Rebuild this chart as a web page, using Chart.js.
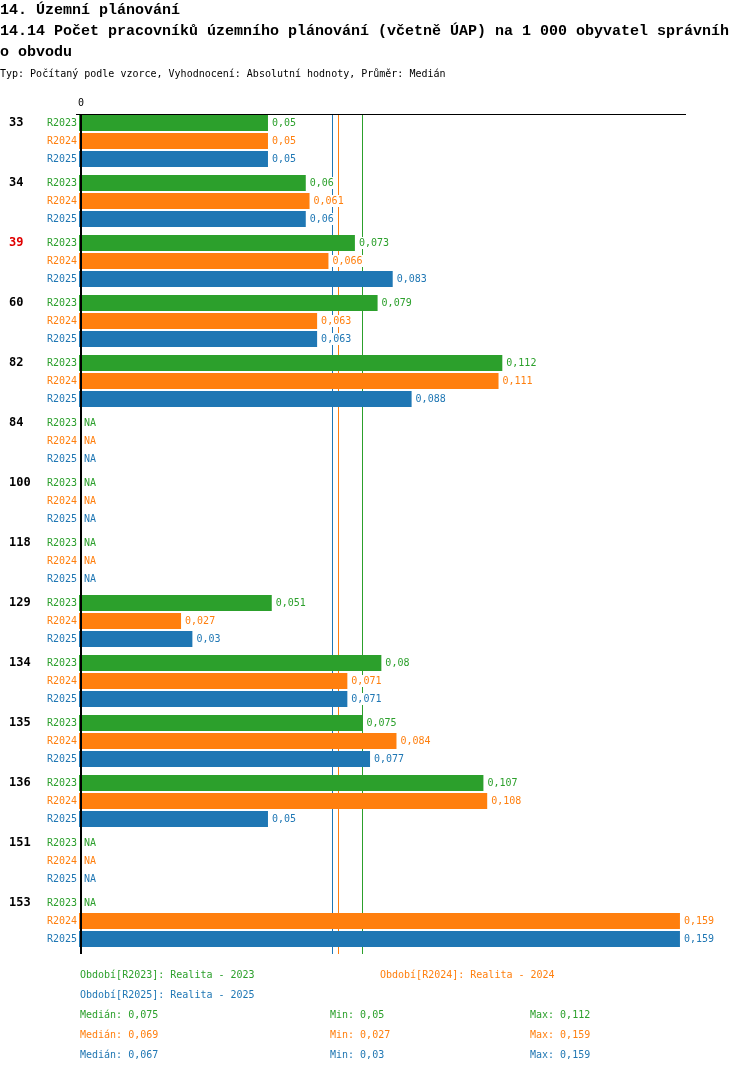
<!DOCTYPE html>
<html>
<head>
<meta charset="utf-8">
<script src="https://cdn.jsdelivr.net/npm/chart.js@4.4.0/dist/chart.umd.min.js"></script>
<style>
  html, body { margin: 0; padding: 0; background: #fff; }
  #wrap { position: relative; width: 750px; height: 1074px; }
</style>
</head>
<body>
<div id="wrap"><canvas id="chart" width="750" height="1074"></canvas></div>
<script>
const categories = ['33', '34', '39', '60', '82', '84', '100', '118', '129', '134', '135', '136', '151', '153'];
const highlighted = ['39'];
const r2023 = [0.05, 0.06, 0.073, 0.079, 0.112, null, null, null, 0.051, 0.08, 0.075, 0.107, null, null];
const r2024 = [0.05, 0.061, 0.066, 0.063, 0.111, null, null, null, 0.027, 0.071, 0.084, 0.108, null, 0.159];
const r2025 = [0.05, 0.06, 0.083, 0.063, 0.088, null, null, null, 0.03, 0.071, 0.077, 0.05, null, 0.159];
const seriesNames = ['R2023', 'R2024', 'R2025'];
const seriesTitles = ['Realita - 2023', 'Realita - 2024', 'Realita - 2025'];
const colors = ['#2ca02c', '#ff7f0e', '#1f77b4'];
const xTicks = [0];

const titleLines = [
    '14. Územní plánování',
    '14.14 Počet pracovníků územního plánování (včetně ÚAP) na 1 000 obyvatel správníh',
    'o obvodu'
];
const subtitle = 'Typ: Počítaný podle vzorce, Vyhodnocení: Absolutní hodnoty, Průměr: Medián';

const small = '10px "DejaVu Sans Mono"';

function fmt(v) {
    return String(Math.round(v * 1000) / 1000).replace('.', ',');
}

function stats(arr) {
    const vals = arr.filter(v => v !== null).sort((a, b) => a - b);
    const n = vals.length;
    const med = n % 2 ? vals[(n - 1) / 2] : (vals[n / 2 - 1] + vals[n / 2]) / 2;
    return { median: med, min: vals[0], max: vals[n - 1] };
}

const allSeries = [r2023, r2024, r2025];
const seriesStats = allSeries.map(stats);

// medians behind the bars
const medianLines = {
    id: 'medianLines',
    beforeDatasetsDraw(chart) {
        const ctx = chart.ctx;
        const x = chart.scales.x;
        const area = chart.chartArea;
        ctx.save();
        ctx.lineWidth = 1;
        seriesStats.forEach((s, i) => {
            const px = Math.round(x.getPixelForValue(s.median)) + 0.5;
            ctx.strokeStyle = colors[i];
            ctx.beginPath();
            ctx.moveTo(px, area.top + 3);
            ctx.lineTo(px, area.bottom + 3);
            ctx.stroke();
        });
        ctx.restore();
    }
};

// labels, axis, titles, legend
const annotations = {
    id: 'annotations',
    afterDatasetsDraw(chart) {
        const ctx = chart.ctx;
        const x = chart.scales.x;
        const area = chart.chartArea;
        const zero = x.getPixelForValue(0);
        ctx.save();
        ctx.textBaseline = 'middle';

        chart.data.datasets.forEach((ds, di) => {
            const meta = chart.getDatasetMeta(di);
            meta.data.forEach((bar, i) => {
                const y = bar.y;
                ctx.font = small;
                ctx.fillStyle = colors[di];
                ctx.textAlign = 'right';
                ctx.fillText(seriesNames[di], zero - 2, y);
                ctx.textAlign = 'left';
                const v = ds.data[i];
                const txt = v === null ? 'NA' : fmt(v);
                const tx = v === null ? zero + 5 : bar.x + 4;
                const w = ctx.measureText(txt).width;
                ctx.fillStyle = '#fff';
                ctx.fillRect(tx - 1, y - 6, w + 2, 12);
                ctx.fillStyle = colors[di];
                ctx.fillText(txt, tx, y);
                if (di === 0) {
                    ctx.font = 'bold 12px "DejaVu Sans Mono"';
                    ctx.fillStyle = highlighted.includes(categories[i]) ? '#e00000' : '#000';
                    ctx.fillText(categories[i], 9, y);
                }
            });
        });

        // axes
        ctx.strokeStyle = '#000';
        ctx.lineWidth = 1;
        ctx.beginPath();
        ctx.moveTo(zero - 3, area.top + 3.5);
        ctx.lineTo(area.right, area.top + 3.5);
        ctx.stroke();
        ctx.lineWidth = 2;
        ctx.beginPath();
        ctx.moveTo(zero + 2, area.top + 3);
        ctx.lineTo(zero + 2, area.bottom + 3);
        ctx.stroke();
        ctx.font = small;
        ctx.fillStyle = '#000';
        ctx.textAlign = 'center';
        xTicks.forEach(t => ctx.fillText(String(t), x.getPixelForValue(t) + 2, area.top - 8));

        // titles
        ctx.textAlign = 'left';
        ctx.textBaseline = 'alphabetic';
        ctx.font = 'bold 15px "Liberation Mono"';
        titleLines.forEach((line, i) => ctx.fillText(line, 0, 14 + i * 21));
        ctx.font = small;
        ctx.fillText(subtitle, 0, 77);

        // legend and summary
        ctx.textBaseline = 'middle';
        const legendPos = [[80, 975], [380, 975], [80, 995]];
        seriesNames.forEach((n, i) => {
            ctx.fillStyle = colors[i];
            ctx.fillText('Období[' + n + ']: ' + seriesTitles[i], legendPos[i][0], legendPos[i][1]);
        });
        seriesStats.forEach((s, i) => {
            const y = 1015 + i * 20;
            ctx.fillStyle = colors[i];
            ctx.fillText('Medián: ' + fmt(s.median), 80, y);
            ctx.fillText('Min: ' + fmt(s.min), 330, y);
            ctx.fillText('Max: ' + fmt(s.max), 530, y);
        });
        ctx.restore();
    }
};

new Chart(document.getElementById('chart').getContext('2d'), {
    type: 'bar',
    data: {
        labels: categories,
        datasets: allSeries.map((data, i) => ({
            label: seriesNames[i],
            data: data,
            backgroundColor: colors[i],
            borderWidth: 0,
            categoryPercentage: 0.9,
            barPercentage: 0.889
        }))
    },
    options: {
        indexAxis: 'y',
        responsive: false,
        animation: false,
        devicePixelRatio: 1,
        layout: { padding: { left: 79, right: 64, top: 111, bottom: 123 } },
        scales: {
            x: { display: false, min: 0, max: 0.1606 },
            y: { display: false }
        },
        plugins: {
            legend: { display: false },
            tooltip: { enabled: false }
        }
    },
    plugins: [medianLines, annotations]
});
</script>
</body>
</html>
